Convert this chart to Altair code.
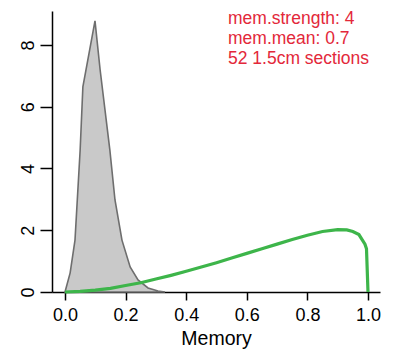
import altair as alt
import pandas as pd

# posterior density (grey)
post_x = [0.0, 0.017, 0.033, 0.050, 0.059, 0.099, 0.116, 0.148, 0.165, 0.188, 0.215, 0.241, 0.274, 0.307, 0.33]
post_y = [0.0, 0.62, 1.68, 4.6, 6.64, 8.78, 7.19, 4.6, 2.98, 1.68, 0.81, 0.39, 0.13, 0.03, 0.0]

# prior density (green)
prior_x = [0.0, 0.05, 0.1, 0.15, 0.2, 0.25, 0.3, 0.35, 0.4, 0.45, 0.5, 0.55, 0.6, 0.65, 0.7,
           0.75, 0.8, 0.85, 0.9, 0.93, 0.95, 0.97, 0.99, 0.995, 1.0]
prior_y = [0.0, 0.02, 0.06, 0.12, 0.21, 0.30, 0.42, 0.54, 0.67, 0.81, 0.95, 1.10, 1.25, 1.40, 1.55,
           1.70, 1.84, 1.96, 2.02, 2.01, 1.96, 1.86, 1.55, 1.40, 0.0]

labels = ["mem.strength: 4", "mem.mean: 0.7", "52 1.5cm sections"]

x_ticks = [0.0, 0.2, 0.4, 0.6, 0.8, 1.0]
y_ticks = [0, 2, 4, 6, 8]

post = pd.DataFrame({"x": post_x, "y": post_y})
prior = pd.DataFrame({"x": prior_x, "y": prior_y})

FONT = "Liberation Sans"
xs = alt.Scale(domain=[-0.0429, 1.0396], nice=False, zero=False)
ys = alt.Scale(domain=[0, 9.1], nice=False, zero=False)

xax = alt.Axis(values=x_ticks, format=".1f", title="Memory", grid=False,
               domainColor="black", domainWidth=1.5, tickColor="black", tickWidth=1.5, tickSize=8,
               labelFont=FONT, labelFontSize=18, labelColor="black", labelPadding=6,
               titleFont=FONT, titleFontSize=19.5, titleFontWeight="normal", titleColor="black",
               titlePadding=5)
yax = alt.Axis(values=y_ticks, format="d", title=None, grid=False,
               domainColor="black", domainWidth=1.5, tickColor="black", tickWidth=1.5, tickSize=12,
               labelFont=FONT, labelFontSize=18, labelColor="black", labelAngle=-90,
               labelAlign="center", labelBaseline="bottom", labelPadding=3)

area = alt.Chart(post).mark_area(color="#c9c9c9", stroke="#6e6e6e", strokeWidth=1.6).encode(
    x=alt.X("x:Q", scale=xs, axis=xax),
    y=alt.Y("y:Q", scale=ys, axis=yax),
)
line = alt.Chart(prior).mark_line(color="#3db54a", strokeWidth=3.2).encode(
    x=alt.X("x:Q", scale=xs),
    y=alt.Y("y:Q", scale=ys),
)
texts = []
for i, lab in enumerate(labels):
    texts.append(
        alt.Chart(pd.DataFrame({"t": [lab]})).mark_text(
            align="left", baseline="alphabetic", font=FONT, fontSize=17.5, color="#e3283a"
        ).encode(x=alt.value(176), y=alt.value(12.5 + 20 * i), text="t:N")
    )

chart = alt.layer(area, line, *texts).properties(
    width=328, height=281,
    autosize=alt.AutoSizeParams(type="none"),
    padding={"left": 44, "top": 3, "right": 5, "bottom": 62},
).configure_view(stroke=None)

chart.save("out.html", embed_options={"renderer": "svg", "actions": False})
